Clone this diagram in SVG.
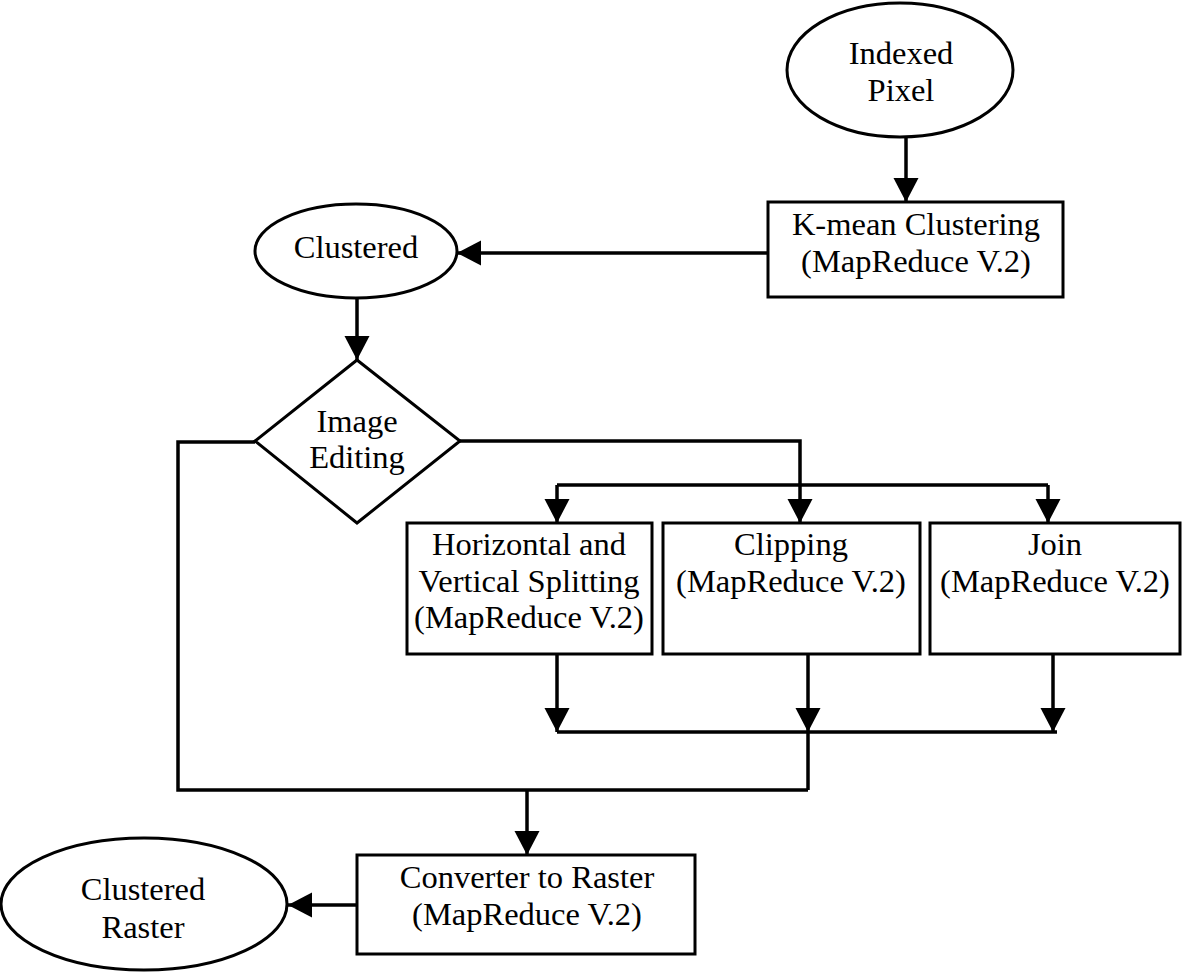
<svg xmlns="http://www.w3.org/2000/svg" width="1186" height="974" viewBox="0 0 1186 974">
<style>
.shape{fill:#fff;stroke:#000;stroke-width:3}
.conn{fill:none;stroke:#000;stroke-width:3.5}
text{font-family:"Liberation Serif","Times New Roman",serif;font-size:32.5px;fill:#000;text-anchor:middle}
</style>
<defs>
<marker id="ah" markerUnits="userSpaceOnUse" markerWidth="26" markerHeight="26" refX="24" refY="12.5" orient="auto" viewBox="0 0 26 26">
<path d="M0,0 L24,12.5 L0,25 z" fill="#000"/>
</marker>
</defs>
<rect width="1186" height="974" fill="#fff"/>
<g id="connectors">
<path class="conn" d="M906,137 V202" marker-end="url(#ah)"/>
<path class="conn" d="M768,253 H457" marker-end="url(#ah)"/>
<path class="conn" d="M357,298 V360" marker-end="url(#ah)"/>
<path class="conn" d="M460,441 H800 V523" marker-end="url(#ah)"/>
<path class="conn" d="M557,485 H1048"/>
<path class="conn" d="M557,485 V523" marker-end="url(#ah)"/>
<path class="conn" d="M1048,485 V523" marker-end="url(#ah)"/>
<path class="conn" d="M557,655 V732" marker-end="url(#ah)"/>
<path class="conn" d="M808,655 V732" marker-end="url(#ah)"/>
<path class="conn" d="M1053,655 V732" marker-end="url(#ah)"/>
<path class="conn" d="M557,732 H1057"/>
<path class="conn" d="M808,732 V790"/>
<path class="conn" d="M255,442 H178 V790 H808"/>
<path class="conn" d="M527,790 V855" marker-end="url(#ah)"/>
<path class="conn" d="M357,905 H288" marker-end="url(#ah)"/>
</g>
<g id="indexed-pixel">
<ellipse class="shape" cx="900" cy="70" rx="113" ry="67"/>
<text x="901" y="64">Indexed</text>
<text x="901" y="101">Pixel</text>
</g>
<g id="kmean">
<rect class="shape" x="768" y="202" width="295" height="95"/>
<text x="916" y="235">K-mean Clustering</text>
<text x="916" y="272">(MapReduce V.2)</text>
</g>
<g id="clustered">
<ellipse class="shape" cx="356" cy="251" rx="101" ry="47"/>
<text x="356" y="258">Clustered</text>
</g>
<g id="image-editing">
<polygon class="shape" points="357,360 460,441 357,523 255,441"/>
<text x="357" y="432">Image</text>
<text x="357" y="468">Editing</text>
</g>
<g id="hv-splitting">
<rect class="shape" x="407" y="523" width="245" height="131"/>
<text x="529" y="555">Horizontal and</text>
<text x="529" y="592">Vertical Splitting</text>
<text x="529" y="628">(MapReduce V.2)</text>
</g>
<g id="clipping">
<rect class="shape" x="663" y="523" width="257" height="131"/>
<text x="791" y="555">Clipping</text>
<text x="791" y="592">(MapReduce V.2)</text>
</g>
<g id="join">
<rect class="shape" x="930" y="523" width="250" height="131"/>
<text x="1055" y="555">Join</text>
<text x="1055" y="592">(MapReduce V.2)</text>
</g>
<g id="converter">
<rect class="shape" x="357" y="855" width="338" height="99"/>
<text x="527" y="888">Converter to Raster</text>
<text x="527" y="925">(MapReduce V.2)</text>
</g>
<g id="clustered-raster">
<ellipse class="shape" cx="144" cy="904" rx="143" ry="66"/>
<text x="143" y="900">Clustered</text>
<text x="143" y="938">Raster</text>
</g>
</svg>
